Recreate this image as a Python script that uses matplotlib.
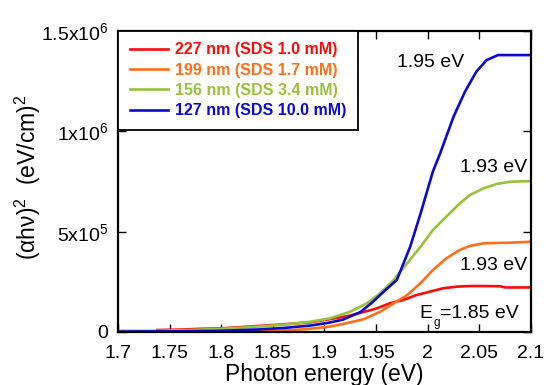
import matplotlib
matplotlib.use("Agg")
import matplotlib.pyplot as plt

plt.rcParams['font.family'] = ['Liberation Sans', 'DejaVu Sans']
plt.rcParams['mathtext.default'] = 'regular'

# ---- data (photon energy in eV, (alpha h nu)^2 values) ----
labels = ["227 nm (SDS 1.0 mM)", "199 nm (SDS 1.7 mM)",
          "156 nm (SDS 3.4 mM)", "127 nm (SDS 10.0 mM)"]
colors = ["#ff0a0a", "#ff6f1a", "#98c23a", "#0a0ad2"]

red_E = [1.738, 1.76, 1.78, 1.80, 1.83, 1.86, 1.886, 1.905, 1.925, 1.938, 1.951,
         1.963, 1.976, 1.989, 2.002, 2.015, 2.028, 2.041, 2.054, 2.07, 2.075, 2.10]
red_v = [10e3, 12e3, 16e3, 18e3, 28e3, 38e3, 48e3, 64e3, 82e3, 100e3, 118e3,
         143e3, 159e3, 184e3, 201e3, 218e3, 226e3, 229e3, 229e3, 228e3, 222e3, 222e3]

orange_E = [1.70, 1.74, 1.77, 1.80, 1.83, 1.85, 1.87, 1.886, 1.905, 1.918, 1.938,
            1.954, 1.967, 1.980, 1.993, 2.005, 2.018, 2.031, 2.041, 2.054, 2.08, 2.10]
orange_v = [0, 0, 1e3, 2e3, 4e3, 6e3, 10e3, 16e3, 27e3, 40e3, 64e3,
            101e3, 143e3, 184e3, 243e3, 309e3, 367e3, 409e3, 429e3, 442e3, 445e3, 450e3]

green_E = [1.70, 1.738, 1.77, 1.80, 1.83, 1.86, 1.886, 1.905, 1.925, 1.941, 1.954,
           1.967, 1.980, 1.993, 2.005, 2.018, 2.031, 2.041, 2.054, 2.067, 2.08, 2.10]
green_v = [6e3, 6e3, 10e3, 16e3, 25e3, 36e3, 51e3, 68e3, 101e3, 143e3, 193e3,
           259e3, 342e3, 425e3, 508e3, 575e3, 641e3, 683e3, 716e3, 738e3, 749e3, 752e3]

blue_E = [1.70, 1.74, 1.77, 1.80, 1.837, 1.86, 1.886, 1.905, 1.918, 1.935, 1.947,
          1.959, 1.970, 1.983, 1.993, 2.005, 2.012, 2.025, 2.036, 2.047, 2.057,
          2.068, 2.08, 2.10]
blue_v = [2e3, 3e3, 4e3, 6e3, 13e3, 20e3, 32e3, 47e3, 62e3, 100e3, 151e3,
          209e3, 259e3, 425e3, 590e3, 800e3, 890e3, 1073e3, 1197e3, 1297e3, 1355e3,
          1380e3, 1380e3, 1380e3]

series_E = [red_E, orange_E, green_E, blue_E]
series_v = [red_v, orange_v, green_v, blue_v]

xticks = [1.7, 1.75, 1.8, 1.85, 1.9, 1.95, 2.0, 2.05, 2.1]
xticklabels = ["1.7", "1.75", "1.8", "1.85", "1.9", "1.95", "2", "2.05", "2.1"]
yticks = [0, 5e5, 1e6, 1.5e6]
yticklabels = ["0", "5x10$^5$", "1x10$^6$", "1.5x10$^6$"]

fig = plt.figure(figsize=(5.46, 3.85), dpi=100)
ax = fig.add_axes([118/546, 1-332/385, 413/546, 301/385])

handles = []
for E, v, c, lab in zip(series_E, series_v, colors, labels):
    h, = ax.plot(E, v, color=c, lw=1.9, label=lab)
    handles.append(h)

ax.set_xlim(1.7, 2.1)
ax.set_ylim(0, 1.5e6)
ax.set_xticks(xticks)
ax.set_xticklabels(xticklabels)
ax.set_yticks(yticks)
ax.set_yticklabels(yticklabels)
ax.tick_params(direction='in', top=True, right=True, length=6, width=1,
               labelsize=14, colors='black')
ax.tick_params(axis='x', pad=9)
ax.tick_params(axis='y', pad=7)
for s in ax.spines.values():
    s.set_linewidth(1.6)

ax.set_xlabel("Photon energy (eV)", fontsize=16.5, labelpad=1)
ax.set_ylabel("(αhν)$^2$  (eV/cm)$^2$", fontsize=16.5)
ax.yaxis.set_label_coords(-0.182, 0.515)

leg = ax.legend(handles=handles, loc='upper left', bbox_to_anchor=(0, 1),
                borderaxespad=0, fancybox=False, framealpha=1,
                edgecolor='black', prop={'weight': 'bold', 'size': 11.5},
                handlelength=2.4, handletextpad=0.45, labelspacing=0.33,
                borderpad=0.72)
leg.get_frame().set_linewidth(1.3)
for t, c in zip(leg.get_texts(), colors):
    t.set_color(c)

ax.text(1.9699, 1.322e6, "1.95 eV", fontsize=14, va='baseline', ha='left')
ax.text(2.0312, 0.799e6, "1.93 eV", fontsize=14, va='baseline', ha='left')
ax.text(2.0312, 0.309e6, "1.93 eV", fontsize=14, va='baseline', ha='left')
ax.text(1.9915, 0.0698e6, "E", fontsize=14, va='baseline', ha='left')
ax.text(2.0119, 0.0698e6, "=1.85 eV", fontsize=14, va='baseline', ha='left')
ax.text(2.0060, 0.030e6, "g", fontsize=8.5, va='baseline', ha='left')

fig.savefig("out.png", dpi=100)
